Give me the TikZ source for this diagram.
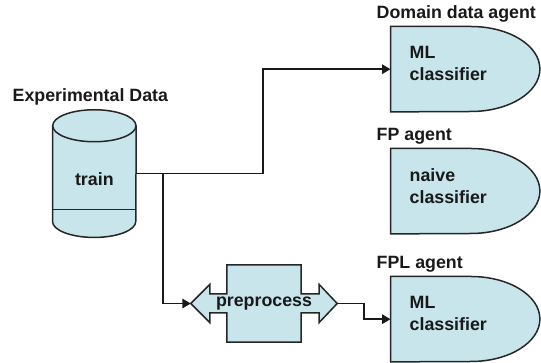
\documentclass[tikz,border=0pt]{standalone}
\usepackage{fontspec}
\setmainfont{Liberation Sans}
\usetikzlibrary{arrows.meta,positioning,calc}
\definecolor{boxfill}{RGB}{199,229,234}

\begin{document}
\begin{tikzpicture}[x=1pt,y=1pt,
    shapeline/.style={draw=black!85, line width=1.5pt, fill=boxfill},
    plainline/.style={draw=black!85, line width=1.5pt},
    flow/.style={draw=black!90, line width=1.6pt, -{Triangle[length=8.5pt,width=9.5pt]}},
    boldtext/.style={font=\fontsize{17.8}{21.5}\selectfont\bfseries, inner sep=0pt, text=black!90},
    agentbox/.style={minimum width=80pt, minimum height=85pt, inner sep=0pt, anchor=north west}]
    \useasboundingbox (0,0) rectangle (541,363);
    % Data store
    \node[minimum width=83.3pt, minimum height=95.3pt, inner sep=0pt] (store) at (94.35,189.4) {};
    \draw[shapeline] (store.north west) -- (store.south west) arc[start angle=180, end angle=360, x radius=41.65, y radius=16] -- (store.north east);
    \draw[shapeline] (store.north) ellipse[x radius=41.65, y radius=16];
    \draw[plainline] ([yshift=12]store.south west) -- ([yshift=12]store.south east);
    \node[boldtext] (train) at ([yshift=-6]store.center) {train};
    \node[boldtext, anchor=base] (store-title) at ([shift={(-4,24.3)}]store.north) {Experimental Data};
    % Preprocess
    \node[minimum width=74pt, minimum height=77pt, inner sep=0pt] (prep) at (264,59.5) {};
    \draw[shapeline] (prep.north west) -- (prep.north east) -- ([yshift=9.5]prep.east) -- ++(18,0) -- ++(0,9.5)
        -- ([xshift=36]prep.east) -- ++(-18,-19) -- ++(0,9.5) -- ([yshift=-9.5]prep.east) -- (prep.south east)
        -- (prep.south west) -- ([yshift=-9.5]prep.west) -- ++(-17,0) -- ++(0,-9.5) -- ([xshift=-36]prep.west)
        -- ++(19,19) -- ++(0,-9.5) -- ([yshift=9.5]prep.west) -- cycle;
    \node[boldtext] (prep-text) at (prep.center) {preprocess};
    \coordinate (prep-in) at ([xshift=-36]prep.west);
    \coordinate (prep-out) at ([xshift=36]prep.east);
    % Agents
    \foreach \name/\ypos/\title/\body in {dom/336.5/{Domain data agent}/{ML\\classifier},
                                          fp/214.5/{FP agent}/{naive\\classifier},
                                          fpl/86.5/{FPL agent}/{ML\\classifier}} {
        \node[agentbox] (\name) at (390.5,\ypos) {};
        \draw[shapeline] (\name.north west) -- (\name.north east) arc[start angle=90, end angle=-90, x radius=69, y radius=42.5] -- (\name.south west) -- cycle;
        \node[boldtext, align=left, anchor=north west] (\name-body) at ([shift={(19,-20)}]\name.north west) {\body};
        \node[boldtext, anchor=base west] (\name-title) at ([shift={(-14,8)}]\name.north west) {\title};
    }
    % Connectors
    \coordinate (split) at ([xshift=27]store.east);
    \draw[flow] (store.east) -- ++(127,0) |- (dom.west);
    \draw[flow] (split) |- (prep-in);
    \draw[flow] (prep-out) -- ++(27,0) |- (fpl.west);
\end{tikzpicture}
\end{document}
